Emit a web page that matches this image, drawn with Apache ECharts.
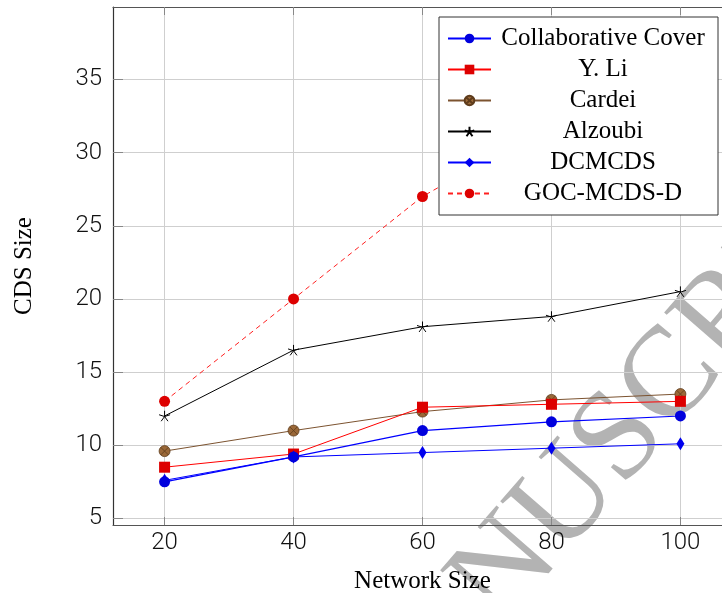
<!DOCTYPE html>
<html>
<head>
<meta charset="utf-8">
<script src="https://cdn.jsdelivr.net/npm/echarts@6/dist/echarts.min.js"></script>
<style>html,body{margin:0;padding:0;background:#fff;}#c{width:722px;height:593px;}</style>
</head>
<body>
<div id="c"></div>
<script>
// ---- data ----
const networkSize = [20, 40, 60, 80, 100];
const collaborativeCover = [7.5, 9.2, 11.0, 11.6, 12.0];
const yLi = [8.5, 9.4, 12.6, 12.8, 13.0];
const cardei = [9.6, 11.0, 12.3, 13.1, 13.5];
const alzoubi = [12.0, 16.5, 18.1, 18.8, 20.5];
const dcmcds = [7.6, 9.2, 9.5, 9.8, 10.1];
const gocMcdsD = [13.0, 20.0, 27.0, 32.0, 37.0];
const xTicks = [20, 40, 60, 80, 100];
const yTicks = [5, 10, 15, 20, 25, 30, 35];

const pairs = (ys) => networkSize.map((x, i) => [x, ys[i]]);

const tickFont = "Roboto, 'Liberation Sans', sans-serif";
const serif = "'Liberation Serif', 'DejaVu Serif', serif";

const starPath = 'path://M0,-1L0,0M0.951,-0.309L0,0M0.588,0.809L0,0M-0.588,0.809L0,0M-0.951,-0.309L0,0';
const otimesPath = 'path://M1,0A1,1,0,1,1,-1,0A1,1,0,1,1,1,0ZM-0.707,-0.707L0.707,0.707M0.707,-0.707L-0.707,0.707';

const chart = echarts.init(document.getElementById('c'), null, {renderer: 'canvas'});

const option = {
  animation: false,
  backgroundColor: '#fff',
  grid: {left: 113, top: 7, right: -10, bottom: 68, containLabel: false, outerBoundsMode: 'none'},
  xAxis: [{
    type: 'value', min: 12, max: 108, position: 'bottom',
    name: 'Network Size', nameLocation: 'middle', nameGap: 44,
    nameTextStyle: {fontFamily: serif, fontSize: 25, color: '#000'},
    axisLine: {show: true, lineStyle: {color: '#555', width: 1.2}},
    axisTick: {show: true, inside: true, length: 8, customValues: xTicks, lineStyle: {color: '#888'}},
    axisLabel: {customValues: xTicks, fontFamily: tickFont, fontWeight: 300, fontSize: 24, color: '#111', margin: 6},
    splitLine: {show: true, lineStyle: {color: '#cfcfcf', width: 1}}
  }, {
    type: 'value', min: 12, max: 108, position: 'top',
    axisLine: {show: true, lineStyle: {color: '#555', width: 1.2}},
    axisTick: {show: true, inside: true, length: 8, customValues: xTicks, lineStyle: {color: '#888'}},
    axisLabel: {show: false},
    splitLine: {show: false}
  }],
  yAxis: [{
    type: 'value', min: 4.55, max: 39.95,
    name: 'CDS Size', nameLocation: 'middle', nameGap: 76,
    nameTextStyle: {fontFamily: serif, fontSize: 25, color: '#000'},
    axisLine: {show: true, lineStyle: {color: '#333', width: 1.2}},
    axisTick: {show: true, inside: true, length: 10, customValues: yTicks, lineStyle: {color: '#888'}},
    axisLabel: {customValues: yTicks, fontFamily: tickFont, fontWeight: 300, fontSize: 24, color: '#111', margin: 11},
    splitLine: {show: true, lineStyle: {color: '#cfcfcf', width: 1}}
  }],
  legend: {
    orient: 'vertical', left: 439, top: 17,
    padding: [9, 8, 9, 8],
    itemWidth: 43, itemHeight: 12, itemGap: 6,
    backgroundColor: '#fff', borderColor: '#333', borderWidth: 1, borderRadius: 0,
    z: 10,
    formatter: (name) => '{c|' + name + '}',
    textStyle: {
      rich: {c: {width: 214, align: 'center', fontFamily: serif, fontSize: 25, lineHeight: 27, color: '#000'}}
    },
    data: ['Collaborative Cover', 'Y. Li', 'Cardei', 'Alzoubi', 'DCMCDS', 'GOC-MCDS-D']
  },
  graphic: [{
    type: 'text', z: -10, silent: true,
    x: 930, y: 181, rotation: 0.855,
    style: {text: 'ACCEPTED MANUSCRIPT', font: "128px 'Liberation Serif'", fill: '#b3b3b3', align: 'right', verticalAlign: 'bottom'}
  }],
  series: [
    {
      name: 'GOC-MCDS-D', type: 'line', data: pairs(gocMcdsD),
      symbol: 'circle', symbolSize: 11,
      itemStyle: {color: '#dd0000', borderColor: '#dd0000', borderWidth: 0},
      lineStyle: {color: '#ff2020', width: 1, type: [5, 4]}
    },
    {
      name: 'Alzoubi', type: 'line', data: pairs(alzoubi),
      symbol: starPath, symbolSize: 11, symbolKeepAspect: true,
      itemStyle: {color: 'rgba(0,0,0,0)', borderColor: '#000', borderWidth: 1},
      lineStyle: {color: '#000', width: 1}
    },
    {
      name: 'Cardei', type: 'line', data: pairs(cardei),
      symbol: otimesPath, symbolSize: 11, symbolKeepAspect: true,
      itemStyle: {color: '#9a6838', borderColor: '#5e3c1c', borderWidth: 0.8},
      lineStyle: {color: '#7c5330', width: 1}
    },
    {
      name: 'Y. Li', type: 'line', data: pairs(yLi),
      symbol: 'rect', symbolSize: 11,
      itemStyle: {color: '#dd0000', borderColor: '#e00000', borderWidth: 0},
      lineStyle: {color: '#ff0000', width: 1}
    },
    {
      name: 'DCMCDS', type: 'line', data: pairs(dcmcds),
      symbol: 'diamond', symbolSize: [8, 13],
      itemStyle: {color: '#0000ee', borderWidth: 0},
      lineStyle: {color: '#0000ff', width: 1}
    },
    {
      name: 'Collaborative Cover', type: 'line', data: pairs(collaborativeCover),
      symbol: 'circle', symbolSize: 11,
      itemStyle: {color: '#0000dd', borderWidth: 0},
      lineStyle: {color: '#0000ff', width: 1.2}
    }
  ]
};
chart.setOption(option);
</script>
</body>
</html>
